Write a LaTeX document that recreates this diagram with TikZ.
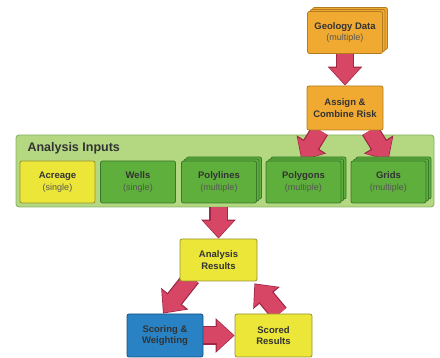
\documentclass[tikz,border=0pt]{standalone}
\usepackage{fontspec}
\setmainfont{Liberation Sans}
\usetikzlibrary{arrows.meta,shadows,calc}
\pgfdeclarelayer{bg}
\pgfdeclarelayer{arr}
\pgfsetlayers{bg,arr,main}
\definecolor{orfill}{HTML}{F0AA32}
\definecolor{orline}{HTML}{B47A1E}
\definecolor{grfill}{HTML}{5FAF3C}
\definecolor{grline}{HTML}{37782A}
\definecolor{cofill}{HTML}{B4D782}
\definecolor{coline}{HTML}{8CB464}
\definecolor{yefill}{HTML}{EBE637}
\definecolor{yeline}{HTML}{969132}
\definecolor{blfill}{HTML}{2882C3}
\definecolor{blline}{HTML}{1A5282}
\definecolor{arfill}{HTML}{D74664}
\definecolor{arline}{HTML}{A02846}
\definecolor{txt}{HTML}{333333}
\definecolor{subtxt}{HTML}{555555}
\newcommand{\subl}[1]{{\fontsize{9}{11}\selectfont\mdseries\color{subtxt}#1}}
\tikzset{
  box/.style={rectangle, rounded corners=2pt, line width=0.8pt, minimum width=75, minimum height=42,
    align=center, inner sep=1pt, text=txt, font=\fontsize{9.5}{11.5}\selectfont\bfseries},
  orbox/.style={box, fill=orfill, draw=orline},
  grbox/.style={box, fill=grfill, draw=grline},
  yebox/.style={box, fill=yefill, draw=yeline},
  blbox/.style={box, fill=blfill, draw=blline},
  multi/.style={double copy shadow={shadow xshift=2.5pt, shadow yshift=2pt}},
  container/.style={rectangle, rounded corners=3pt, fill=cofill, draw=coline, line width=0.9pt,
    minimum width=418, minimum height=72},
  fatout/.style={draw=arline, line width=18.5pt, -{Triangle[length=19pt,width=33.5pt]}},
  fatin/.style={draw=arfill, line width=16pt, shorten >=1.2pt, -{Triangle[length=16.5pt,width=29.5pt]}},
}
\newcommand{\fatarr}[2]{\draw[fatout] #1 -- #2; \draw[fatin] #1 -- #2;}
\begin{document}
\begin{tikzpicture}[x=1pt,y=-1pt]
\useasboundingbox (0,0) rectangle (440,358);
\begin{pgfonlayer}{bg}
\node[container] (inputs) at (225,171) {};
\end{pgfonlayer}
\node[anchor=west, text=txt, font=\fontsize{12.5}{14}\selectfont\bfseries] (ttl) at (24,148) {Analysis Inputs};

\node[orbox, multi] (geo) at (345,32.5) {Geology Data\\\subl{(multiple)}};
\node[orbox, minimum width=76, minimum height=44] (assign) at (345,108) {Assign \&\\Combine Risk};

\node[box, fill=yefill, draw=yeline] (acreage) at (57.5,182) {Acreage\\\subl{(single)}};
\node[grbox] (wells) at (138,182) {Wells\\\subl{(single)}};
\node[grbox, multi] (polyl) at (219,182) {Polylines\\\subl{(multiple)}};
\node[grbox, multi] (polyg) at (303.5,182) {Polygons\\\subl{(multiple)}};
\node[grbox, multi] (grids) at (388.5,182) {Grids\\\subl{(multiple)}};

\node[yebox, minimum width=77] (analysis) at (218.5,260) {Analysis\\Results};
\node[blbox, minimum width=76, minimum height=43] (scoring) at (165,335.5) {Scoring \&\\Weighting};
\node[yebox, minimum width=77, minimum height=43] (scored) at (273.5,335.5) {Scored\\Results};

\begin{pgfonlayer}{arr}
\fatarr{(geo.south)}{(assign.north)}
\fatarr{([xshift=-25pt]assign.south)}{([xshift=-2pt]polyg.north)}
\fatarr{([xshift=25pt]assign.south)}{(grids.north)}
\fatarr{(analysis.north |- inputs.south)}{(analysis.north)}
\fatarr{([xshift=12pt,yshift=4pt]analysis.south west)}{([xshift=-2pt]scoring.north)}
\fatarr{(scoring.east)}{(scored.west)}
\fatarr{([xshift=6pt]scored.north)}{([xshift=-3pt,yshift=-2pt]analysis.south east)}
\end{pgfonlayer}
\end{tikzpicture}
\end{document}
